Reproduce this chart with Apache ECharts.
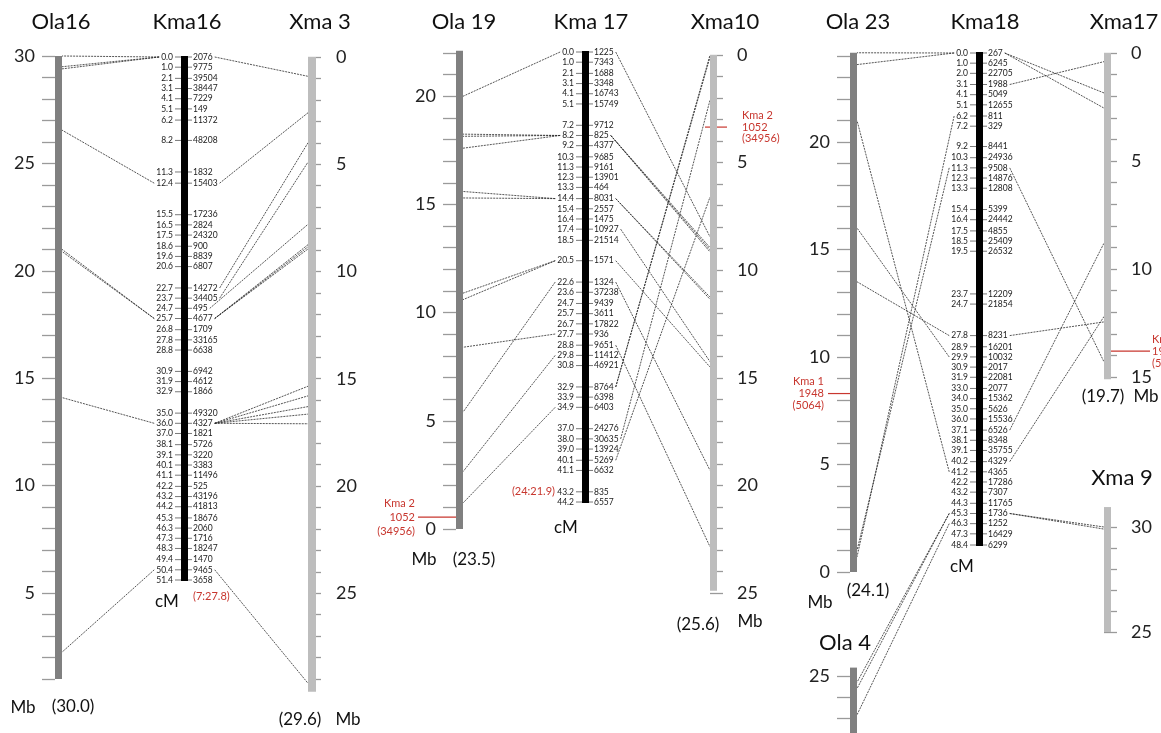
<!DOCTYPE html>
<html>
<head>
<meta charset="utf-8">
<script src="https://cdn.jsdelivr.net/npm/echarts@6/dist/echarts.min.js"></script>
<style>
html, body { margin: 0; padding: 0; background: #fff; }
#map-box { width: 1161px; height: 733px; }
</style>
</head>
<body>
<div id="map-box"></div>
<script>
// Kma linkage groups: marker positions (cM) and marker ids
const kma16cM = [0.0, 1.0, 2.1, 3.1, 4.1, 5.1, 6.2, 8.2, 11.3, 12.4, 15.5, 16.5, 17.5, 18.6, 19.6, 20.6, 22.7, 23.7, 24.7, 25.7, 26.8, 27.8, 28.8, 30.9, 31.9, 32.9, 35.0, 36.0, 37.0, 38.1, 39.1, 40.1, 41.1, 42.2, 43.2, 44.2, 45.3, 46.3, 47.3, 48.3, 49.4, 50.4, 51.4];
const kma16Ids = ['2076', '9775', '39504', '38447', '7229', '149', '11372', '48208', '1832', '15403', '17236', '2824', '24320', '900', '8839', '6807', '14272', '34405', '495', '4677', '1709', '33165', '6638', '6942', '4612', '1866', '49320', '4327', '1821', '5726', '3220', '3383', '11496', '525', '43196', '41813', '18676', '2060', '1716', '18247', '1470', '9465', '3658'];

const kma17cM = [0.0, 1.0, 2.1, 3.1, 4.1, 5.1, 7.2, 8.2, 9.2, 10.3, 11.3, 12.3, 13.3, 14.4, 15.4, 16.4, 17.4, 18.5, 20.5, 22.6, 23.6, 24.7, 25.7, 26.7, 27.7, 28.8, 29.8, 30.8, 32.9, 33.9, 34.9, 37.0, 38.0, 39.0, 40.1, 41.1, 43.2, 44.2];
const kma17Ids = ['1225', '7343', '1688', '3348', '16743', '15749', '9712', '825', '4377', '9685', '9161', '13901', '464', '8031', '2557', '1475', '10927', '21514', '1571', '1324', '37238', '9439', '3611', '17822', '936', '9651', '11412', '46921', '8764', '6398', '6403', '24276', '30635', '13924', '5269', '6632', '835', '6557'];

const kma18cM = [0.0, 1.0, 2.0, 3.1, 4.1, 5.1, 6.2, 7.2, 9.2, 10.3, 11.3, 12.3, 13.3, 15.4, 16.4, 17.5, 18.5, 19.5, 23.7, 24.7, 27.8, 28.9, 29.9, 30.9, 31.9, 33.0, 34.0, 35.0, 36.0, 37.1, 38.1, 39.1, 40.2, 41.2, 42.2, 43.2, 44.3, 45.3, 46.3, 47.3, 48.4];
const kma18Ids = ['267', '6245', '22705', '1988', '5049', '12655', '811', '329', '8441', '24936', '9508', '14876', '12808', '5399', '24442', '4855', '25409', '26532', '12209', '21854', '8231', '16201', '10032', '2017', '22081', '2077', '15362', '5626', '15536', '6526', '8348', '35755', '4329', '4365', '17286', '7307', '11765', '1736', '1252', '16429', '6299'];

// links: [cM on the Kma group, Mb on the physical chromosome]
const ola16Kma16 = [[0.0, 30.0], [0.0, 29.5], [0.0, 29.4], [12.4, 26.55], [25.7, 21.0], [25.7, 20.9], [36.0, 14.1], [50.4, 2.25]];
const kma16Xma3 = [[0.0, 0.9], [12.4, 2.6], [22.7, 4.0], [23.7, 4.9], [24.7, 7.8], [25.7, 8.75], [25.7, 8.85], [25.7, 8.95], [36.0, 15.35], [36.0, 15.8], [36.0, 16.3], [36.0, 16.65], [36.0, 17.1], [50.4, 29.2]];
const ola19Kma17 = [[0.0, 20.0], [8.2, 18.25], [8.2, 18.15], [8.2, 17.6], [14.4, 15.6], [14.4, 15.3], [20.5, 10.9], [20.5, 10.6], [22.6, 5.4], [27.7, 8.4], [29.8, 2.65], [34.9, 1.2]];
const kma17Xma10 = [[0.0, 8.45], [8.2, 8.95], [8.2, 9.05], [8.2, 9.15], [14.4, 11.25], [14.4, 11.35], [17.4, 14.25], [20.5, 14.5], [22.6, 19.3], [28.8, 22.85], [32.9, 0.0], [32.9, 0.1], [38.0, 2.1], [40.1, 6.6]];
const ola23Kma18 = [[0.0, 24.15], [0.0, 23.6], [6.2, 0.7], [11.3, 1.0], [27.8, 13.5], [29.9, 16.0], [41.2, 21.0]];
const kma18Xma17 = [[0.0, 1.85], [0.0, 2.55], [3.1, 0.4], [11.3, 14.3], [27.8, 12.45], [37.1, 8.8], [40.2, 12.2]];
const kma18Xma9 = [[45.3, 30.0], [45.3, 29.9]];
const ola4Kma18 = [[45.3, 24.7], [45.3, 24.4], [46.3, 23.15]];

// drawn extent of each chromosome bar [from, to]
const barOla16 = [1, 30], barXma3 = [0, 29.6], barOla19 = [0, 22.1], barXma10 = [0, 24.9];
const barOla23 = [0, 24.15], barXma17 = [0, 15.1], barXma9 = [25, 30.95], barOla4 = [22, 25.4];

// mapped positions of other Kma groups (red)
const redMarks = [
  { chrom: 'ola19', mb: 0.55, lines: ['Kma 2', '1052', '(34956)'] },
  { chrom: 'xma10', mb: 3.35, lines: ['Kma 2', '1052', '(34956)'] },
  { chrom: 'ola23', mb: 8.3, lines: ['Kma 1', '1948', '(5064)'] },
  { chrom: 'xma17', mb: 13.8, lines: ['Kma 1', '1948', '(5064)'] }
];

const RED = '#c8372f';
const SMALL = '8.5px Lato';

// grid / axis layout for every chromosome
const layout = {
  ola16: { left: 55, top: 56, width: 7, height: 623, min: 1, max: 30, inverse: false, side: 'left', color: '#808080', bar: barOla16 },
  kma16: { left: 181, top: 57, width: 7, height: 523, min: 0, max: 51.4, kma: true, cM: kma16cM, ids: kma16Ids },
  xma3: { left: 308, top: 57, width: 8, height: 622, min: 0, max: 29, inverse: true, side: 'right', color: '#bdbdbd', bar: barXma3 },
  ola19: { left: 456, top: 53, width: 7, height: 476, min: 0, max: 22, inverse: false, side: 'left', color: '#808080', bar: barOla19 },
  kma17: { left: 582, top: 52, width: 7, height: 450, min: 0, max: 44.2, kma: true, cM: kma17cM, ids: kma17Ids },
  xma10: { left: 710, top: 55, width: 7, height: 538, min: 0, max: 25, inverse: true, side: 'right', color: '#bdbdbd', bar: barXma10 },
  ola23: { left: 850, top: 56, width: 7, height: 516, min: 0, max: 24, inverse: false, side: 'left', color: '#808080', bar: barOla23 },
  kma18: { left: 976, top: 53, width: 7, height: 492, min: 0, max: 48.4, kma: true, cM: kma18cM, ids: kma18Ids },
  xma17: { left: 1104, top: 53, width: 7, height: 324, min: 0, max: 15, inverse: true, side: 'right', color: '#bdbdbd', bar: barXma17 },
  xma9: { left: 1104, top: 527, width: 7, height: 105, min: 25, max: 30, inverse: false, side: 'right', color: '#bdbdbd', bar: barXma9 },
  ola4: { left: 850, top: 676, width: 7, height: 63, min: 22, max: 25, inverse: false, side: 'left', color: '#808080', bar: barOla4 }
};
const names = Object.keys(layout);
const gridOf = n => names.indexOf(n);

const linkSets = [
  { kma: 'kma16', other: 'ola16', pairs: ola16Kma16 },
  { kma: 'kma16', other: 'xma3', pairs: kma16Xma3 },
  { kma: 'kma17', other: 'ola19', pairs: ola19Kma17 },
  { kma: 'kma17', other: 'xma10', pairs: kma17Xma10 },
  { kma: 'kma18', other: 'ola23', pairs: ola23Kma18 },
  { kma: 'kma18', other: 'xma17', pairs: kma18Xma17 },
  { kma: 'kma18', other: 'xma9', pairs: kma18Xma9 },
  { kma: 'kma18', other: 'ola4', pairs: ola4Kma18 }
];

const measureCtx = document.createElement('canvas').getContext('2d');
function textWidth(s) {
  measureCtx.font = SMALL;
  return measureCtx.measureText(s).width;
}

function isFive(v) {
  return Math.abs(v - Math.round(v / 5) * 5) < 1e-6;
}

let chartDom = document.getElementById('map-box');
let mapChart = echarts.init(chartDom);

let grids = names.map(n => {
  const c = layout[n];
  return { left: c.left, top: c.top, width: c.width, height: c.height, outerBoundsMode: 'none' };
});
let xAxes = names.map((n, i) => ({ gridIndex: i, type: 'value', min: 0, max: 1, show: false }));
let yAxes = names.map((n, i) => {
  const c = layout[n];
  if (c.kma) {
    return { gridIndex: i, type: 'value', min: c.min, max: c.max, inverse: true, show: false };
  }
  return {
    gridIndex: i,
    type: 'value',
    min: c.min,
    max: c.max,
    interval: 1,
    inverse: c.inverse,
    position: c.side,
    axisLine: { show: false },
    splitLine: { show: false },
    axisTick: { show: true, length: 13, lineStyle: { color: '#9a9a9a', width: 1.3 } },
    axisLabel: {
      margin: 20,
      fontSize: 18,
      fontFamily: 'Lato',
      color: '#222',
      formatter: v => (isFive(v) ? String(Math.round(v)) : '')
    }
  };
});

let series = [];
names.forEach((n, i) => {
  const c = layout[n];
  const fill = c.kma ? '#000' : c.color;
  const bar = c.kma ? [-0.1, c.cM[c.cM.length - 1] + 0.1] : c.bar;
  series.push({
    type: 'custom',
    xAxisIndex: i,
    yAxisIndex: i,
    clip: false,
    silent: true,
    data: [[bar[0], bar[1]]],
    renderItem: function (params, api) {
      const a = api.coord([0, api.value(1)]);
      const b = api.coord([1, api.value(0)]);
      return {
        type: 'rect',
        shape: { x: Math.min(a[0], b[0]), y: Math.min(a[1], b[1]), width: Math.abs(b[0] - a[0]), height: Math.abs(b[1] - a[1]) },
        style: { fill: fill }
      };
    }
  });
  if (c.kma) {
    series.push({
      type: 'custom',
      xAxisIndex: i,
      yAxisIndex: i,
      clip: false,
      silent: true,
      data: c.cM.map(v => [0.5, v]),
      renderItem: function (params, api) {
        const v = api.value(1);
        const l = api.coord([0, v]);
        const r = api.coord([1, v]);
        const y = l[1];
        return {
          type: 'group',
          children: [
            { type: 'line', shape: { x1: l[0] - 6, y1: y, x2: l[0], y2: y }, style: { stroke: '#555', lineWidth: 0.8 } },
            { type: 'line', shape: { x1: r[0], y1: y, x2: r[0] + 4, y2: y }, style: { stroke: '#555', lineWidth: 0.8 } },
            { type: 'text', style: { text: v.toFixed(1), x: l[0] - 8, y: y, font: SMALL, fill: '#1a1a1a', align: 'right', textAlign: 'right', verticalAlign: 'middle', textVerticalAlign: 'middle' } },
            { type: 'text', style: { text: c.ids[params.dataIndex], x: r[0] + 5, y: y, font: SMALL, fill: '#1a1a1a', align: 'left', textAlign: 'left', verticalAlign: 'middle', textVerticalAlign: 'middle' } }
          ]
        };
      }
    });
  }
});

mapChart.setOption({
  animation: false,
  grid: grids,
  xAxis: xAxes,
  yAxis: yAxes,
  series: series
});

function px(n, x, v) {
  return mapChart.convertToPixel({ gridIndex: gridOf(n) }, [x, v]);
}

function label(text, x, y, size, opts) {
  opts = opts || {};
  return {
    type: 'text',
    silent: true,
    style: {
      text: text, x: x, y: y,
      font: (size || 17) + 'px Lato',
      fill: opts.fill || '#111',
      align: opts.align || 'center', textAlign: opts.align || 'center',
      verticalAlign: 'middle', textVerticalAlign: 'middle'
    }
  };
}

let graphics = [];

// connection lines
linkSets.forEach(set => {
  const k = layout[set.kma];
  const leftSide = layout[set.other].side === 'left';
  set.pairs.forEach(p => {
    const idx = k.cM.indexOf(p[0]);
    const kp = leftSide ? px(set.kma, 0, p[0]) : px(set.kma, 1, p[0]);
    const kx = leftSide
      ? kp[0] - 8 - textWidth(p[0].toFixed(1)) - 2
      : kp[0] + 5 + textWidth(k.ids[idx]) + 2;
    const op = leftSide ? px(set.other, 1, p[1]) : px(set.other, 0, p[1]);
    graphics.push({
      type: 'line',
      silent: true,
      shape: { x1: kx, y1: kp[1], x2: op[0], y2: op[1] },
      style: { stroke: '#2a2a2a', lineWidth: 0.8, lineDash: [2, 1] }
    });
  });
});

// red marks of other Kma groups
redMarks.forEach(m => {
  const lp = px(m.chrom, 0, m.mb);
  const rp = px(m.chrom, 1, m.mb);
  let x1, x2, tx, align, gap;
  if (m.chrom === 'ola19') { x1 = lp[0] - 38; x2 = rp[0]; tx = x1 - 3; align = 'right'; gap = 14; }
  else if (m.chrom === 'ola23') { x1 = lp[0] - 22; x2 = rp[0]; tx = x1 - 4; align = 'right'; gap = 12; }
  else if (m.chrom === 'xma10') { x1 = lp[0] - 5; x2 = rp[0] + 10; tx = rp[0] + 25; align = 'left'; gap = 11.5; }
  else { x1 = lp[0]; x2 = rp[0] + 39; tx = rp[0] + 41; align = 'left'; gap = 12; }
  graphics.push({ type: 'line', silent: true, shape: { x1: x1, y1: lp[1], x2: x2, y2: lp[1] }, style: { stroke: RED, lineWidth: 1.2 } });
  m.lines.forEach((t, j) => {
    graphics.push(label(t, tx, lp[1] + (j - 1) * gap, 11, { fill: RED, align: align }));
  });
});

// chromosome names
[['Ola16', 61, 22], ['Kma16', 187, 22], ['Xma 3', 320, 22],
 ['Ola 19', 464, 22], ['Kma 17', 591, 22], ['Xma10', 725, 22],
 ['Ola 23', 858, 22], ['Kma18', 985, 22], ['Xma17', 1124, 22],
 ['Xma 9', 1122, 478], ['Ola 4', 845, 643]].forEach(t => graphics.push(label(t[0], t[1], t[2], 22)));

// units and lengths
[['Mb', 23, 708], ['(30.0)', 73, 707], ['cM', 167, 602], ['(29.6)', 300, 720], ['Mb', 348, 720],
 ['Mb', 424, 560], ['(23.5)', 474, 560], ['cM', 566, 528], ['(25.6)', 698, 625], ['Mb', 750, 622],
 ['Mb', 820, 603], ['(24.1)', 868, 591], ['cM', 962, 567], ['(19.7)', 1103, 397], ['Mb', 1146, 397]]
  .forEach(t => graphics.push(label(t[0], t[1], t[2], 17)));

graphics.push(label('(7:27.8)', 193, 596, 11, { fill: RED, align: 'left' }));
graphics.push(label('(24:21.9)', 555, 491, 11, { fill: RED, align: 'right' }));

mapChart.setOption({ graphic: { elements: graphics } });
</script>
</body>
</html>
